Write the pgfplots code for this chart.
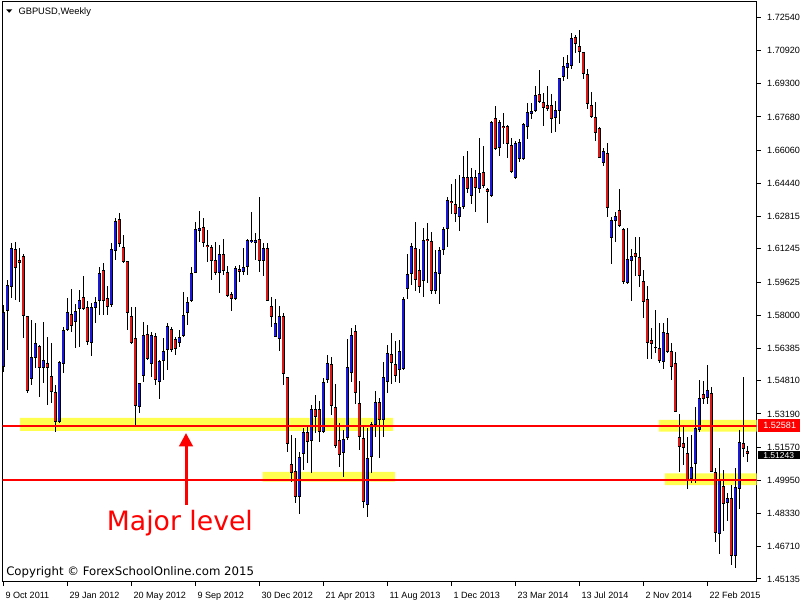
\documentclass[border=0pt]{standalone}
\usepackage{fontspec}
\setmainfont{Liberation Sans}
\newfontfamily\dejavu{DejaVu Sans}
\usepackage{pgfplots}
\usepackage{pgfplotstable}
\pgfplotsset{compat=1.18}
\usetikzlibrary{arrows.meta}
\definecolor{bull}{RGB}{25,25,215}
\definecolor{bear}{RGB}{215,25,25}
\definecolor{zone}{RGB}{255,255,80}
\definecolor{lvl}{RGB}{255,0,0}
\pgfplotstableread{
i o h l c
0 1.5548 1.5851 1.5524 1.5816
1 1.5821 1.5973 1.5631 1.5948
2 1.5938 1.6153 1.5885 1.6129
3 1.6124 1.6158 1.5875 1.6031
4 1.6070 1.6129 1.5865 1.6056
5 1.6090 1.6100 1.5690 1.5797
6 1.5797 1.5799 1.5421 1.5431
7 1.5489 1.5777 1.5460 1.5597
8 1.5592 1.5763 1.5543 1.5665
9 1.5651 1.5655 1.5402 1.5543
10 1.5543 1.5768 1.5470 1.5582
11 1.5568 1.5694 1.5363 1.5543
12 1.5504 1.5665 1.5372 1.5426
13 1.5426 1.5460 1.5231 1.5280
14 1.5280 1.5577 1.5275 1.5572
15 1.5563 1.5743 1.5519 1.5729
16 1.5729 1.5885 1.5724 1.5816
17 1.5807 1.5929 1.5719 1.5748
18 1.5768 1.5856 1.5641 1.5821
19 1.5831 1.5924 1.5646 1.5875
20 1.5890 1.5992 1.5826 1.5831
21 1.5841 1.5870 1.5655 1.5670
22 1.5665 1.5860 1.5602 1.5841
23 1.5836 1.5890 1.5763 1.5865
24 1.5870 1.6036 1.5802 1.6007
25 1.6021 1.6056 1.5802 1.5870
26 1.5885 1.5943 1.5802 1.5841
27 1.5851 1.6153 1.5841 1.6124
28 1.6114 1.6275 1.6070 1.6261
29 1.6270 1.6300 1.6134 1.6148
30 1.6134 1.6192 1.6056 1.6061
31 1.6065 1.6067 1.5729 1.5811
32 1.5797 1.5841 1.5660 1.5665
33 1.5690 1.5841 1.5260 1.5358
34 1.5353 1.5472 1.5324 1.5470
35 1.5504 1.5768 1.5475 1.5704
36 1.5709 1.5753 1.5582 1.5587
37 1.5563 1.5719 1.5499 1.5704
38 1.5699 1.5714 1.5460 1.5485
39 1.5475 1.5582 1.5392 1.5577
40 1.5577 1.5690 1.5485 1.5626
41 1.5631 1.5763 1.5533 1.5748
42 1.5734 1.5743 1.5621 1.5631
43 1.5685 1.5694 1.5607 1.5636
44 1.5665 1.5729 1.5646 1.5694
45 1.5699 1.5914 1.5694 1.5802
46 1.5811 1.5890 1.5753 1.5865
47 1.5870 1.6036 1.5865 1.6007
48 1.6007 1.6256 1.6005 1.6222
49 1.6212 1.6309 1.6158 1.6226
50 1.6231 1.6275 1.6134 1.6153
51 1.6143 1.6217 1.6061 1.6134
52 1.6134 1.6143 1.5973 1.6065
53 1.6070 1.6158 1.5997 1.6007
54 1.6007 1.6143 1.5909 1.6100
55 1.6100 1.6173 1.5997 1.6016
56 1.6012 1.6041 1.5890 1.5895
57 1.5904 1.5914 1.5821 1.5880
58 1.5880 1.6041 1.5875 1.6031
59 1.6026 1.6046 1.5963 1.6012
60 1.6012 1.6129 1.5997 1.6036
61 1.6036 1.6173 1.5997 1.6168
62 1.6158 1.6304 1.6153 1.6168
63 1.6153 1.6202 1.6070 1.6168
64 1.6173 1.6378 1.6012 1.6065
65 1.6065 1.6153 1.5992 1.6129
66 1.6129 1.6153 1.5868 1.5870
67 1.5846 1.5890 1.5743 1.5792
68 1.5694 1.5880 1.5692 1.5763
69 1.5685 1.5846 1.5626 1.5797
70 1.5797 1.5811 1.5460 1.5514
71 1.5499 1.5501 1.5133 1.5172
72 1.5075 1.5216 1.4987 1.5031
73 1.5041 1.5202 1.4884 1.4914
74 1.4914 1.5133 1.4831 1.5109
75 1.5124 1.5250 1.5045 1.5231
76 1.5231 1.5255 1.5080 1.5182
77 1.5187 1.5363 1.5031 1.5343
78 1.5343 1.5411 1.5226 1.5304
79 1.5343 1.5382 1.5182 1.5231
80 1.5231 1.5494 1.5226 1.5475
81 1.5485 1.5607 1.5470 1.5568
82 1.5563 1.5597 1.5314 1.5358
83 1.5353 1.5465 1.5153 1.5163
84 1.5192 1.5275 1.5060 1.5119
85 1.5128 1.5241 1.5011 1.5197
86 1.5202 1.5685 1.5192 1.5548
87 1.5519 1.5738 1.5475 1.5704
88 1.5724 1.5753 1.5368 1.5421
89 1.5372 1.5480 1.5143 1.5207
90 1.5202 1.5255 1.4860 1.4889
91 1.4875 1.5250 1.4816 1.5104
92 1.5109 1.5280 1.5031 1.5270
93 1.5265 1.5431 1.5207 1.5377
94 1.5377 1.5397 1.5104 1.5289
95 1.5289 1.5572 1.5207 1.5499
96 1.5475 1.5655 1.5421 1.5616
97 1.5612 1.5714 1.5465 1.5568
98 1.5563 1.5675 1.5475 1.5504
99 1.5533 1.5680 1.5470 1.5626
100 1.5538 1.5890 1.5533 1.5880
101 1.5929 1.6100 1.5880 1.6002
102 1.6002 1.6153 1.5948 1.6138
103 1.6129 1.6256 1.5919 1.5973
104 1.6021 1.6124 1.5909 1.5938
105 1.5968 1.6226 1.5890 1.6168
106 1.6173 1.6251 1.5958 1.6163
107 1.6163 1.6207 1.5904 1.5919
108 1.5919 1.6119 1.5904 1.6012
109 1.6002 1.6134 1.5856 1.6119
110 1.6119 1.6231 1.6095 1.6222
111 1.6222 1.6378 1.6134 1.6363
112 1.6358 1.6441 1.6295 1.6348
113 1.6343 1.6465 1.6256 1.6295
114 1.6280 1.6485 1.6212 1.6329
115 1.6329 1.6578 1.6319 1.6475
116 1.6475 1.6602 1.6397 1.6417
117 1.6382 1.6519 1.6343 1.6475
118 1.6475 1.6509 1.6304 1.6422
119 1.6417 1.6666 1.6397 1.6495
120 1.6500 1.6627 1.6422 1.6431
121 1.6417 1.6422 1.6251 1.6402
122 1.6383 1.6749 1.6378 1.6744
123 1.6763 1.6822 1.6607 1.6612
124 1.6617 1.6753 1.6578 1.6744
125 1.6724 1.6788 1.6636 1.6714
126 1.6724 1.6729 1.6568 1.6636
127 1.6631 1.6666 1.6495 1.6500
128 1.6470 1.6651 1.6465 1.6641
129 1.6563 1.6661 1.6548 1.6646
130 1.6563 1.6739 1.6558 1.6734
131 1.6719 1.6836 1.6661 1.6792
132 1.6783 1.6836 1.6758 1.6797
133 1.6797 1.6919 1.6792 1.6875
134 1.6880 1.6997 1.6836 1.6841
135 1.6841 1.6885 1.6724 1.6812
136 1.6827 1.6919 1.6797 1.6807
137 1.6827 1.6880 1.6690 1.6758
138 1.6763 1.6846 1.6695 1.6802
139 1.6797 1.6960 1.6734 1.6958
140 1.6963 1.7061 1.6944 1.7017
141 1.7007 1.7071 1.6953 1.7032
142 1.7017 1.7178 1.7002 1.7154
143 1.7158 1.7168 1.7080 1.7124
144 1.7115 1.7193 1.7032 1.7085
145 1.7085 1.7087 1.6953 1.6978
146 1.6978 1.7002 1.6807 1.6831
147 1.6827 1.6890 1.6763 1.6768
148 1.6768 1.6841 1.6651 1.6690
149 1.6714 1.6719 1.6566 1.6568
150 1.6543 1.6617 1.6529 1.6602
151 1.6592 1.6641 1.6280 1.6324
152 1.6178 1.6280 1.6051 1.6265
153 1.6261 1.6304 1.6158 1.6285
154 1.6314 1.6417 1.6231 1.6236
155 1.6222 1.6226 1.5953 1.5963
156 1.5958 1.6226 1.5953 1.6075
157 1.6065 1.6124 1.5870 1.6090
158 1.6104 1.6183 1.5992 1.6085
159 1.6085 1.6183 1.5938 1.5992
160 1.5968 1.6021 1.5787 1.5865
161 1.5880 1.5943 1.5587 1.5665
162 1.5680 1.5738 1.5587 1.5660
163 1.5641 1.5826 1.5616 1.5646
164 1.5641 1.5763 1.5568 1.5577
165 1.5572 1.5763 1.5538 1.5719
166 1.5714 1.5787 1.5616 1.5621
167 1.5626 1.5665 1.5485 1.5548
168 1.5568 1.5621 1.5326 1.5328
169 1.5207 1.5319 1.5036 1.5158
170 1.5177 1.5265 1.5070 1.5153
171 1.5128 1.5207 1.4953 1.4992
172 1.5002 1.5216 1.4982 1.5060
173 1.5075 1.5353 1.4982 1.5250
174 1.5241 1.5485 1.5231 1.5397
175 1.5416 1.5480 1.5368 1.5392
176 1.5397 1.5558 1.5368 1.5436
177 1.5421 1.5450 1.5034 1.5036
178 1.5036 1.5055 1.4694 1.4738
179 1.4733 1.5153 1.4636 1.5002
180 1.4968 1.5045 1.4748 1.4880
181 1.4884 1.4933 1.4797 1.4909
182 1.4909 1.4972 1.4582 1.4626
183 1.4626 1.5055 1.4567 1.4962
184 1.4953 1.5241 1.4855 1.5182
185 1.5177 1.5499 1.5109 1.5148
186 1.5138 1.5163 1.5085 1.5124
}\candles
\begin{document}
\begin{tikzpicture}
\fill[white] (0,0) rectangle (600pt,-450pt);
\path[use as bounding box] (0,0) rectangle (600pt,-450pt);
\begin{axis}[
  at={(2.025pt,-1.275pt)}, anchor=north west,
  width=565.5pt, height=435pt, scale only axis,
  xmin=-0.15, xmax=188.35, ymin=1.45003, ymax=1.73307,
  axis line style={black, line width=0.75pt},
  every tick/.style={black, line width=0.75pt},
  tick align=outside, major tick length=3pt,
  xtick pos=left, ytick pos=right, yticklabel pos=right,
  xtick={0,16,32,48,64,80,96,112,128,144,160,176},
  xticklabels={9 Oct 2011,29 Jan 2012,20 May 2012,9 Sep 2012,30 Dec 2012,21 Apr 2013,11 Aug 2013,1 Dec 2013,23 Mar 2014,13 Jul 2014,2 Nov 2014,22 Feb 2015},
  ytick={1.45135,1.46710,1.48330,1.49950,1.51570,1.53190,1.54810,1.56385,1.58000,1.59625,1.61245,1.62815,1.64440,1.66060,1.67680,1.69300,1.70920,1.72540},
  yticklabels={1.45135,1.46710,1.48330,1.49950,1.51570,1.53190,1.54810,1.56385,1.58000,1.59625,1.61245,1.62815,1.64440,1.66060,1.67680,1.69300,1.70920,1.72540},
  tick label style={font=\fontsize{6.8}{8}\selectfont, inner sep=0pt},
  xticklabel style={anchor=base west, xshift=1.5pt, yshift=-9.6pt},
  yticklabel style={anchor=west, xshift=4.7pt},
  scaled y ticks=false,
  clip=true,
]
% support / resistance zones
\addplot[draw=none, fill=zone, mark=none] coordinates {(4.2,1.52357) (97.4,1.52357) (97.4,1.52992) (4.2,1.52992) (4.2,1.52357)};
\addplot[draw=none, fill=zone, mark=none] coordinates {(64.85,1.49883) (97.9,1.49883) (97.9,1.50356) (64.85,1.50356) (64.85,1.49883)};
\addplot[draw=none, fill=zone, mark=none] coordinates {(163.9,1.52323) (190,1.52323) (190,1.52894) (163.9,1.52894) (163.9,1.52323)};
\addplot[draw=none, fill=zone, mark=none] coordinates {(165.4,1.4972) (190,1.4972) (190,1.5029) (165.4,1.5029) (165.4,1.4972)};
% wicks
\addplot[draw=none, mark=none,
  error bars/.cd, y dir=both, y explicit, error mark=none,
  error bar style={draw=black, line width=0.75pt}]
  table[x=i, y expr={(\thisrow{h}+\thisrow{l})/2}, y error expr={(\thisrow{h}-\thisrow{l})/2}] {\candles};
% body outlines
\addplot[draw=none, mark=none,
  error bars/.cd, y dir=both, y explicit, error mark=none,
  error bar style={draw=black, line width=2.55pt}]
  table[x=i, y expr={(\thisrow{o}+\thisrow{c})/2}, y error expr={max(abs(\thisrow{o}-\thisrow{c})/2,0.00025)}] {\candles};
% bullish fill
\addplot[draw=none, mark=none,
  error bars/.cd, y dir=both, y explicit, error mark=none,
  error bar style={draw=bull, line width=1.3pt}]
  table[x=i, y expr={\thisrow{c}>\thisrow{o} ? (\thisrow{o}+\thisrow{c})/2 : 0}, y error expr={max(abs(\thisrow{o}-\thisrow{c})/2-0.0004,0)}] {\candles};
% bearish fill
\addplot[draw=none, mark=none,
  error bars/.cd, y dir=both, y explicit, error mark=none,
  error bar style={draw=bear, line width=1.3pt}]
  table[x=i, y expr={\thisrow{c}>\thisrow{o} ? 0 : (\thisrow{o}+\thisrow{c})/2}, y error expr={max(abs(\thisrow{o}-\thisrow{c})/2-0.0004,0)}] {\candles};
% horizontal levels
\addplot[lvl, line width=1.5pt, mark=none] coordinates {(-1,1.52581) (190,1.52581)};
\addplot[lvl, line width=1.5pt, mark=none] coordinates {(-1,1.49950) (190,1.49950)};
\end{axis}
% header
\fill[black] (4.6pt,-7pt) -- (9.2pt,-7pt) -- (6.9pt,-9.6pt) -- cycle;
\node[anchor=base west, inner sep=0pt, font=\fontsize{7}{8}\selectfont] at (13.7pt,-11pt) {GBPUSD,Weekly};
% copyright
\node[anchor=base west, inner sep=0pt, font=\dejavu\fontsize{8.8}{10}\selectfont] at (4.5pt,-431.8pt) {Copyright © ForexSchoolOnline.com 2015};
% annotation
\node[anchor=base west, inner sep=0pt, text=lvl, font=\dejavu\fontsize{20}{24}\selectfont] at (80pt,-398pt) {Major level};
\draw[lvl, line width=2.25pt, -{Triangle[width=10pt,length=10pt]}] (139.5pt,-378.75pt) -- (139.5pt,-324.75pt);
% price boxes
\fill[lvl] (568.5pt,-314.25pt) rectangle (600pt,-324pt);
\node[anchor=west, inner sep=0pt, text=white, font=\fontsize{6.8}{8}\selectfont] at (572.25pt,-319.1pt) {1.52581};
\fill[black] (568.5pt,-338pt) rectangle (600pt,-344.6pt);
\node[anchor=west, inner sep=0pt, text=white, font=\fontsize{6.4}{7}\selectfont] at (572.25pt,-341.3pt) {1.51243};
\end{tikzpicture}
\end{document}
